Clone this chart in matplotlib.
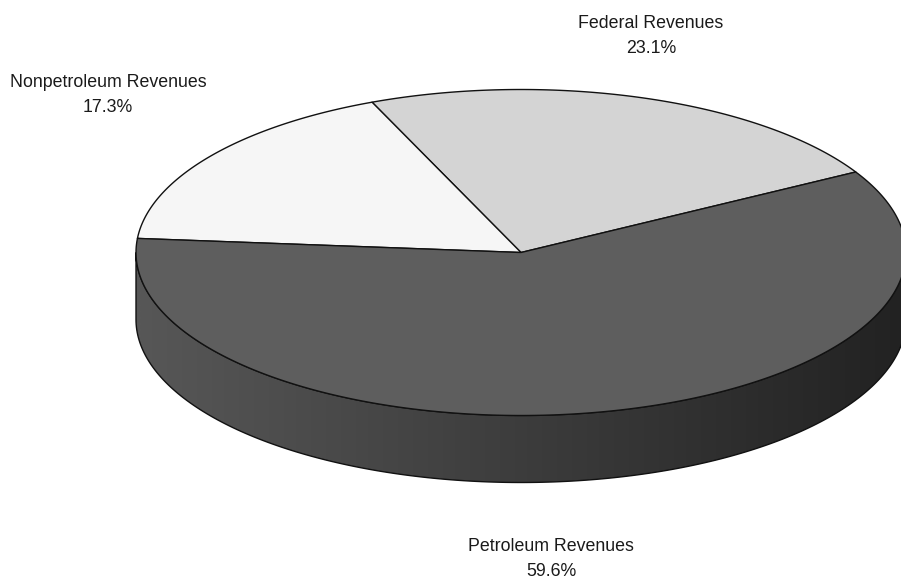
import numpy as np
import matplotlib
matplotlib.use("Agg")
import matplotlib.pyplot as plt
from matplotlib.patches import Polygon
from matplotlib.colors import LinearSegmentedColormap

plt.rcParams['font.family'] = ['Liberation Sans', 'DejaVu Sans']

# Revenue shares (percent)
categories = ["Federal Revenues", "Nonpetroleum Revenues", "Petroleum Revenues"]
shares = [23.1, 17.3, 59.6]
top_colors = ["#d4d4d4", "#f6f6f6", "#5e5e5e"]
side_colors = [("#b0b0b0", "#8a8a8a"), ("#d8d8d8", "#b5b5b5"), ("#575757", "#222222")]
label_pos = [(651, 36), (108, 95), (551, 559)]

W, H = 901, 584
fig = plt.figure(figsize=(W / 100, H / 100), dpi=100)
ax = fig.add_axes([0, 0, 1, 1])
ax.set_xlim(0, W)
ax.set_ylim(H, 0)
ax.axis("off")

# Pie geometry in pixel space
cx, cy = 521.0, 252.5
rx, ry = 385.0, 163.0
depth = 67.0
start_angle = 29.6


def top_pt(t):
    t = np.radians(t)
    return cx + rx * np.cos(t), cy - ry * np.sin(t)


angles = np.concatenate([[0], np.cumsum(shares)]) / 100.0 * 360.0 + start_angle

# Side walls (front half only, 180..360 degrees)
for i in range(len(shares)):
    a0, a1 = angles[i], angles[i + 1]
    for k in (-360, 0, 360):
        s, e = max(a0 + k, 180), min(a1 + k, 360)
        if e <= s:
            continue
        ts = np.linspace(s, e, 200)
        xs, ys = top_pt(ts)
        pts = np.column_stack([np.concatenate([xs, xs[::-1]]),
                               np.concatenate([ys, ys[::-1] + depth])])
        poly = Polygon(pts, closed=True, facecolor="none", edgecolor="#111111",
                       linewidth=1.0, zorder=3)
        ax.add_patch(poly)
        cmap = LinearSegmentedColormap.from_list("side", side_colors[i])
        grad = np.linspace(0, 1, 256).reshape(1, -1)
        im = ax.imshow(grad, cmap=cmap, aspect="auto",
                       extent=[cx - rx, cx + rx, cy + ry + depth, cy - ry],
                       zorder=2, interpolation="bilinear")
        clip = Polygon(pts, closed=True, transform=ax.transData)
        im.set_clip_path(clip)

# Top faces
for i in range(len(shares)):
    ts = np.linspace(angles[i], angles[i + 1], 300)
    xs, ys = top_pt(ts)
    pts = np.column_stack([np.concatenate([[cx], xs]), np.concatenate([[cy], ys])])
    ax.add_patch(Polygon(pts, closed=True, facecolor=top_colors[i],
                         edgecolor="#111111", linewidth=1.0, joinstyle="round", zorder=4))

# Labels
for name, val, (lx, ly) in zip(categories, shares, label_pos):
    ax.text(lx, ly, f"{name}\n{val:.1f}%", ha="center", va="center",
            multialignment="center", fontsize=12.8, color="#1a1a1a",
            linespacing=1.65, zorder=5)

ax.set_xlim(0, W)
ax.set_ylim(H, 0)
fig.savefig("out.png", dpi=100)
